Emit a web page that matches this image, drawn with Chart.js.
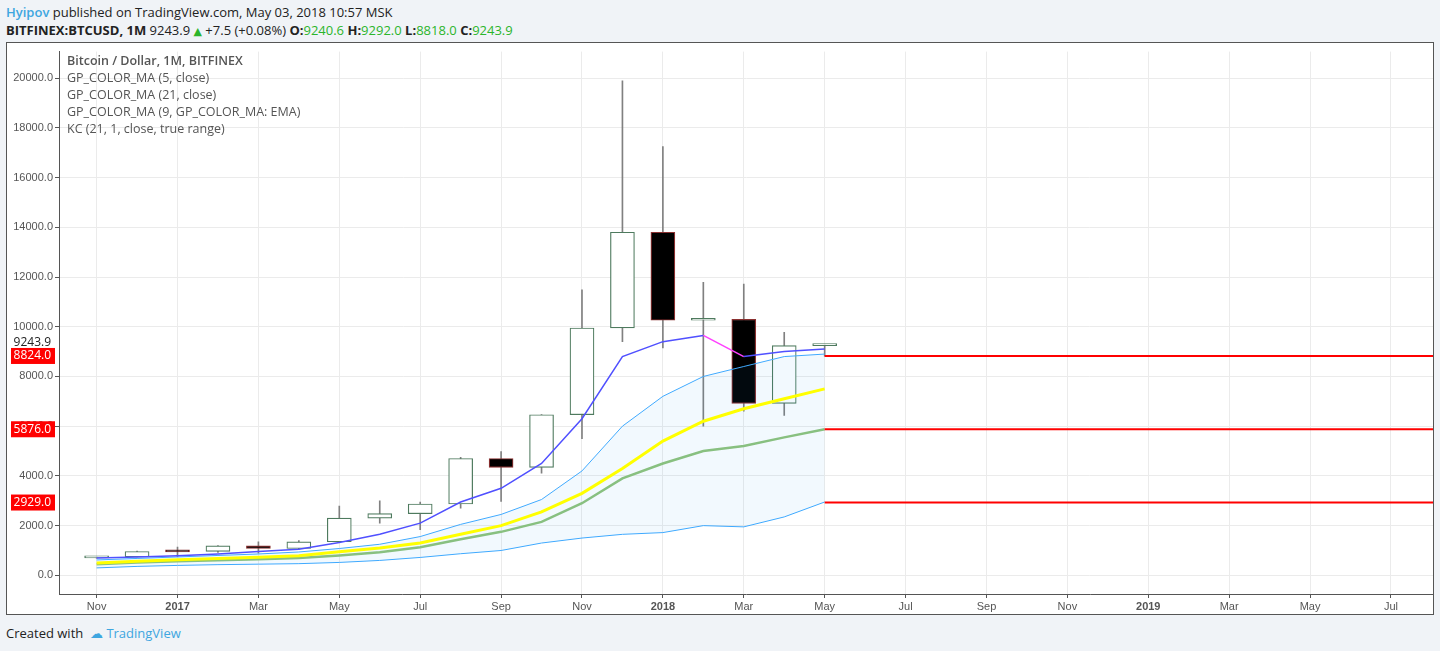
<!DOCTYPE html>
<html>
<head>
<meta charset="utf-8">
<script src="https://cdn.jsdelivr.net/npm/chart.js@4.4.0/dist/chart.umd.min.js"></script>
<style>
  body { margin: 0; background: #f0f3f7; font-family: "Open Sans", "DejaVu Sans", sans-serif; width: 1440px; height: 651px; overflow: hidden; position: relative; }
  #h1 { position: absolute; left: 6px; top: 3px; font-size: 13px; color: #222; }
  #h1 b { color: #3ea6e0; font-weight: 600; }
  #h2 { position: absolute; left: 6px; top: 21px; font-size: 13px; color: #222; }
  #h2 .g { color: #2bb52b; }
  #h2 .up { color: #2bb52b; font-size: 11px; }
  #panel { position: absolute; left: 6px; top: 42px; width: 1428px; height: 573px; background: #fff; border: 1px solid #555; box-sizing: border-box; }
  #legend { position: absolute; left: 67px; top: 52px; font-size: 12.5px; color: #555; line-height: 17px; }
  #legend b { font-weight: 600; }
  #foot { position: absolute; left: 6px; top: 624px; font-size: 13px; color: #222; }
  #foot span { color: #3ea6e0; }
</style>
</head>
<body>
<div id="h1"><b>Hyipov</b> published on TradingView.com, May 03, 2018 10:57 MSK</div>
<div id="h2"><b>BITFINEX:BTCUSD, 1M</b> 9243.9 <span class="up">&#9650;</span> +7.5 (+0.08%) <b>O:</b><span class="g">9240.6</span> <b>H:</b><span class="g">9292.0</span> <b>L:</b><span class="g">8818.0</span> <b>C:</b><span class="g">9243.9</span></div>
<div id="panel"><canvas id="c" width="1426" height="571"></canvas></div>
<div id="legend"><b>Bitcoin / Dollar, 1M, BITFINEX</b><br>GP_COLOR_MA (5, close)<br>GP_COLOR_MA (21, close)<br>GP_COLOR_MA (9, GP_COLOR_MA: EMA)<br>KC (21, 1, close, true range)</div>
<div id="foot">Created with &nbsp;<span>&#9729; TradingView</span></div>
<script>
// =================== DATOS ===================
// meses desde Nov 2016 (índice 0) hasta May 2018 (índice 18)
const meses = ['Nov','Dec','2017','Feb','Mar','Apr','May','Jun','Jul','Aug','Sep','Oct','Nov','Dec','2018','Feb','Mar','Apr','May','Jun','Jul','Aug','Sep','Oct','Nov','Dec','2019','Feb','Mar','Apr','May','Jun','Jul','Aug'];
const abre   = [700, 742, 965, 965, 1190, 1080, 1350, 2300, 2480, 2870, 4700, 4340, 6460, 9950, 13800, 10260, 10300, 6920, 9240.6];
const maximo = [750, 980, 1140, 1200, 1350, 1400, 2790, 3000, 2950, 4750, 4980, 6470, 11480, 19890, 17250, 11790, 11720, 9770, 9292];
const minimo = [690, 740, 750, 920, 890, 1060, 1350, 2100, 1840, 2700, 2970, 4110, 5500, 9400, 9150, 6000, 6600, 6430, 8818];
const cierre = [742, 960, 945, 1190, 1080, 1350, 2300, 2480, 2870, 4700, 4340, 6460, 9950, 13800, 10260, 10300, 6920, 9240, 9243.9];
const ma5    = [700, 740, 790, 860, 960, 1050, 1320, 1650, 2100, 2950, 3500, 4500, 6300, 8800, 9400, 9650, 8800, 9000, 9100];
const ma21   = [450, 520, 570, 610, 650, 700, 800, 930, 1130, 1450, 1750, 2150, 2900, 3900, 4500, 5000, 5200, 5550, 5880];
const ema9   = [500, 570, 630, 680, 730, 790, 950, 1100, 1300, 1650, 2000, 2550, 3300, 4300, 5400, 6200, 6700, 7100, 7500];
const kcSup  = [620, 680, 740, 800, 860, 940, 1080, 1250, 1560, 2050, 2450, 3050, 4200, 6000, 7200, 8000, 8400, 8800, 8900];
const kcInf  = [300, 360, 400, 430, 450, 470, 520, 600, 720, 870, 1000, 1300, 1500, 1650, 1720, 2000, 1950, 2350, 2950];
const niveles = [8824.0, 5876.0, 2929.0];
const precioActual = 9243.9;
const X_MAX = 33.04;

// =================== SERIES ===================
const pts = arr => arr.map((v, i) => ({ x: i, y: v }));
const cuerpos = abre.map((o, i) => ({ x: i, y: [o, cierre[i]] }));
const mechas = abre.map((o, i) => ({ x: i, y: [minimo[i], maximo[i]] }));
const sube = i => cierre[i] >= abre[i];

const lineasNivel = niveles.map(v => ({
  type: 'line', data: [{ x: 18, y: v }, { x: X_MAX, y: v }],
  borderColor: '#ff0000', borderWidth: 2, pointRadius: 0, order: 0
}));

// etiquetas de niveles en el eje y
const etiquetasNivel = {
  id: 'etiquetasNivel',
  afterDraw(chart) {
    const ctx = chart.ctx, y = chart.scales.y, left = chart.chartArea.left;
    ctx.save();
    ctx.font = '12px "Open Sans", sans-serif';
    ctx.textBaseline = 'middle';
    ctx.textAlign = 'right';
    const py0 = y.getPixelForValue(precioActual) - 3;
    ctx.fillStyle = '#fff'; ctx.fillRect(0, py0 - 7, left - 1, 14);
    ctx.fillStyle = '#222'; ctx.fillText(precioActual.toFixed(1), left - 8, py0);
    niveles.forEach(v => {
      const py = y.getPixelForValue(v);
      ctx.fillStyle = '#ff0000';
      ctx.fillRect(4, py - 8, left - 8, 16);
      ctx.fillStyle = '#fff';
      ctx.fillText(v.toFixed(1), left - 8, py);
    });
    ctx.restore();
  }
};

const esAnio = v => /^\d{4}$/.test(meses[v] || '');

new Chart(document.getElementById('c'), {
  data: {
    datasets: [
      ...lineasNivel,
      { type: 'line', data: pts(ma5), borderWidth: 1.5, pointRadius: 0, order: 1,
        borderColor: '#5050ff',
        segment: { borderColor: c => c.p1.parsed.y < c.p0.parsed.y ? '#ff40ff' : '#5050ff' } },
      { type: 'line', data: pts(ema9), borderColor: '#ffff00', borderWidth: 3, pointRadius: 0, order: 2 },
      { type: 'line', data: pts(ma21), borderColor: '#88c080', borderWidth: 2.5, pointRadius: 0, order: 3 },
      { type: 'line', data: pts(kcSup), borderColor: '#40aaff', borderWidth: 1, pointRadius: 0, order: 4,
        fill: '+1', backgroundColor: 'rgba(33,150,243,0.06)' },
      { type: 'line', data: pts(kcInf), borderColor: '#40aaff', borderWidth: 1, pointRadius: 0, order: 4 },
      { type: 'bar', data: cuerpos, barThickness: 24, grouped: false, order: 5,
        backgroundColor: cuerpos.map((d, i) => sube(i) ? '#ffffff' : '#000000'),
        borderColor: cuerpos.map((d, i) => sube(i) ? '#4e7a5e' : '#8a3030'),
        borderWidth: 1.2, borderSkipped: false, minBarLength: 2 },
      { type: 'bar', data: mechas, barThickness: 1, grouped: false, order: 6,
        backgroundColor: '#808080' }
    ]
  },
  options: {
    responsive: false, animation: false,
    plugins: { legend: { display: false }, tooltip: { enabled: false } },
    scales: {
      x: {
        type: 'linear', min: -0.93, max: X_MAX, offset: false,
        afterFit: s => { s.height = 20; },
        afterBuildTicks: s => { const t = []; for (let i = 0; i < 33; i += 2) t.push({ value: i }); s.ticks = t; },
        grid: { offset: false, color: '#ebebeb', tickLength: 4, tickColor: '#555' },
        border: { color: '#555' },
        ticks: {
          color: '#555', padding: 2, autoSkip: false, maxRotation: 0,
          font: c => ({ size: 11, weight: (c && c.tick && esAnio(c.tick.value)) ? 'bold' : 'normal' }),
          callback: v => meses[v]
        }
      },
      y: {
        min: -750, max: 21066,
        afterFit: s => { s.width = 52; },
        afterBuildTicks: s => { const t = []; for (let v = 0; v <= 20000; v += 2000) t.push({ value: v }); s.ticks = t; },
        grid: { color: '#ebebeb', tickLength: 4, tickColor: '#555' },
        border: { color: '#555' },
        ticks: { color: '#555', font: { size: 11 }, padding: 2, callback: v => v.toFixed(1) }
      }
    }
  },
  plugins: [etiquetasNivel]
});
</script>
</body>
</html>
